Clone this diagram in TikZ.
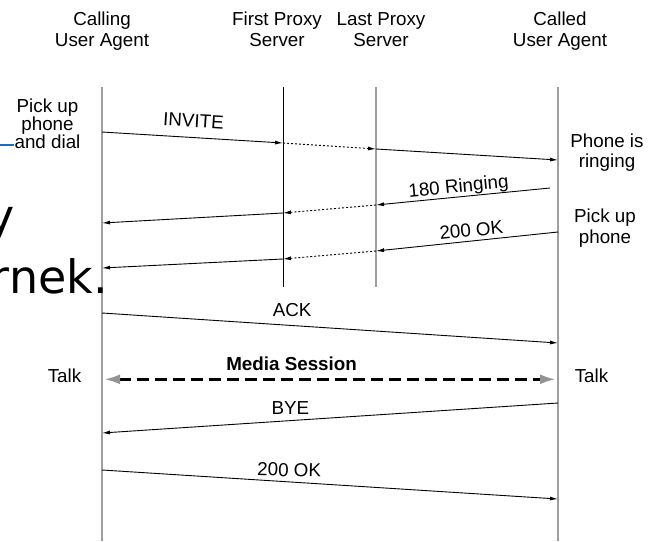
\documentclass[tikz,border=0pt]{standalone}
\usepackage{fontspec}
\setmainfont{Liberation Sans}
\newfontfamily\slidefont{DejaVu Sans}
\usetikzlibrary{arrows.meta}
\definecolor{slideblue}{RGB}{25,110,190}
\tikzset{
	lifeline/.style={line width=1.4pt,gray!75},
	msg/.style={line width=0.9pt,-{Latex[length=8pt,width=4pt]}},
	relay/.style={msg,dash pattern=on 2pt off 2pt},
	media/.style={line width=3pt,dash pattern=on 12pt off 6pt,{Latex[length=16pt,width=10pt,color=gray!85]}-{Latex[length=16pt,width=10pt,color=gray!85]}},
	lbl/.style={inner sep=0pt,text depth=0pt,font=\fontsize{18.8}{21}\selectfont},
	note/.style={inner sep=0pt,align=center,font=\fontsize{18.8}{21}\selectfont},
}
\begin{document}
\begin{tikzpicture}[x=1pt,y=-1pt,line join=round]
	\useasboundingbox (0,0) rectangle (648,541) ;
	% column heads (base = last line)
	\node[note,anchor=base] (UAC) at (102,46) {Calling\\User Agent} ;
	\node[note,anchor=base] (PX1) at (277,46) {First Proxy\\Server} ;
	\node[note,anchor=base] (PX2) at (381,46) {Last Proxy\\Server} ;
	\node[note,anchor=base] (UAS) at (560,46) {Called\\User Agent} ;
	\coordinate (A0) at (102,87) ; \coordinate (A1) at (102,541) ;
	\coordinate (P0) at (283,87) ; \coordinate (P1) at (283,287) ;
	\coordinate (Q0) at (376,87) ; \coordinate (Q1) at (376,287) ;
	\coordinate (B0) at (558,87) ; \coordinate (B1) at (558,541) ;
	\draw[lifeline] (A0) -- (A1) (Q0) -- (Q1) (B0) -- (B1) ;
	\draw[lifeline,black,line width=1pt] (P0) -- (P1) ;
	% leftover slide text
	\node[anchor=base east,inner sep=0pt,font=\slidefont\fontsize{46}{50}\selectfont] (frag1) at (15,232) {y} ;
	\node[anchor=base east,inner sep=0pt,font=\slidefont\fontsize{46}{50}\selectfont] (frag2) at (108,293) {rnek.} ;
	\coordinate (S0) at (0,145) ; \coordinate (S1) at (14,145) ;
	\draw[slideblue,line width=2pt] (S0) -- (S1) ;
	% side notes
	\node[note,anchor=base,font=\fontsize{18.8}{18.2}\selectfont] (dial) at (47.5,148.5) {Pick up\\phone\\and dial} ;
	\node[note,anchor=base,font=\fontsize{18.8}{20}\selectfont] (ring) at (607,167.5) {Phone is\\ringing} ;
	\node[note,anchor=base] (pick) at (605,243) {Pick up\\phone} ;
	\node[lbl,anchor=base] (talkA) at (64.5,382.5) {Talk} ;
	\node[lbl,anchor=base] (talkB) at (591.5,382.5) {Talk} ;
	% INVITE
	\coordinate (I1) at (102,132) ; \coordinate (I2) at (283,143) ;
	\coordinate (I3) at (376,149) ; \coordinate (I4) at (558,160) ;
	\draw[msg] (I1) -- node[lbl,sloped,above=10pt] {INVITE} (I2) ;
	\draw[relay] (I2) -- (I3) ;
	\draw[msg] (I3) -- (I4) ;
	% 180 Ringing
	\coordinate (R1) at (550,188) ; \coordinate (R2) at (376,205) ;
	\coordinate (R3) at (283,213) ; \coordinate (R4) at (102,223) ;
	\draw[msg] (R1) -- node[lbl,sloped,pos=0.52,above=4pt] {180 Ringing} (R2) ;
	\draw[relay] (R2) -- (R3) ;
	\draw[msg] (R3) -- (R4) ;
	% 200 OK
	\coordinate (O1) at (558,232) ; \coordinate (O2) at (376,251) ;
	\coordinate (O3) at (283,259) ; \coordinate (O4) at (102,268) ;
	\draw[msg] (O1) -- node[lbl,sloped,pos=0.47,above=4pt] {200 OK} (O2) ;
	\draw[relay] (O2) -- (O3) ;
	\draw[msg] (O3) -- (O4) ;
	% ACK, media, BYE, 200 OK
	\coordinate (K1) at (102,313) ; \coordinate (K2) at (558,343) ;
	\draw[msg] (K1) -- node[lbl,pos=0.417,above=9pt] {ACK} (K2) ;
	\coordinate (M1) at (104,379.3) ; \coordinate (M2) at (556,379.3) ;
	\draw[media] (M1) -- node[lbl,pos=0.415,above=7.5pt,font=\fontsize{18.8}{21}\selectfont\bfseries] {Media Session} (M2) ;
	\coordinate (Y1) at (558,403) ; \coordinate (Y2) at (102,433) ;
	\draw[msg] (Y1) -- node[lbl,pos=0.587,above=5.5pt] {BYE} (Y2) ;
	\coordinate (Z1) at (102,470) ; \coordinate (Z2) at (558,499) ;
	\draw[msg] (Z1) -- node[lbl,pos=0.41,above=5pt,rotate=-1.5] {200 OK} (Z2) ;
\end{tikzpicture}
\end{document}
